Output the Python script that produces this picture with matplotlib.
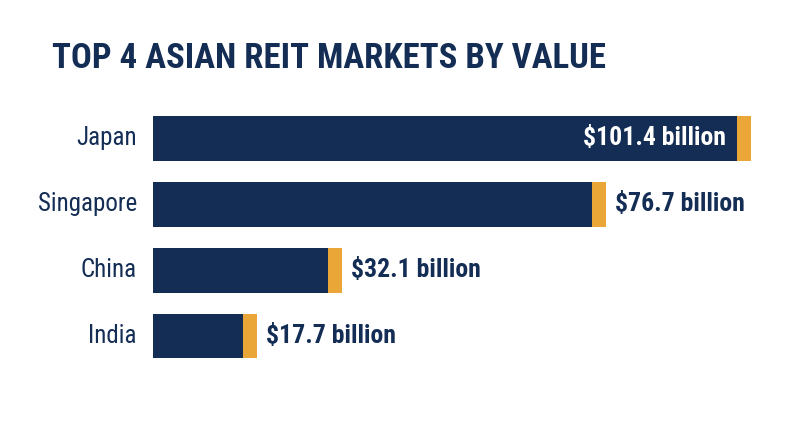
import matplotlib
matplotlib.use("Agg")
import matplotlib.pyplot as plt
from matplotlib import font_manager as fm

categories = ["Japan", "Singapore", "China", "India"]
values = [101.4, 76.7, 32.1, 17.7]
value_labels = ["$101.4 billion", "$76.7 billion", "$32.1 billion", "$17.7 billion"]
title = "TOP 4 ASIAN REIT MARKETS BY VALUE"

NAVY = "#142d55"
ORANGE = "#eba638"

# pick a condensed font if available
names = {f.name for f in fm.fontManager.ttflist}
fam = "DejaVu Sans"
stretch = "normal"
for cand in ["Roboto Condensed", "Open Sans Condensed", "Liberation Sans Narrow", "Noto Sans Condensed"]:
    if cand in names:
        fam = cand
        break
else:
    if any(f.name == "DejaVu Sans" and f.stretch == "condensed" for f in fm.fontManager.ttflist):
        stretch = "condensed"

fig = plt.figure(figsize=(8, 4.47), dpi=100)
ax = fig.add_axes([153/800, (447-369)/447, 610/800, 263.5/447])
px_per_unit = 5.9
ax.set_xlim(0, 610/px_per_unit)
ax.set_ylim(3.5, -0.5)
ax.axis("off")

cap = 14/px_per_unit
ys = list(range(len(categories)))
ax.barh(ys, values, height=0.68, color=NAVY, left=0)
ax.barh(ys, [cap]*len(values), left=[v - cap for v in values], height=0.68, color=ORANGE)

fp = dict(family=fam, stretch=stretch, weight="bold")
for i, (c, v, lab) in enumerate(zip(categories, values, value_labels)):
    ax.text(-16/px_per_unit, i, c, ha="right", va="center", fontsize=18, color=NAVY,
            family=fam, stretch=stretch, weight="normal")
    if i == 0:
        ax.text(v - cap - 11/px_per_unit, i, lab, ha="right", va="center", fontsize=18.5,
                color="white", **fp)
    else:
        ax.text(v + 9/px_per_unit, i, lab, ha="left", va="center", fontsize=18.5,
                color=NAVY, **fp)

fig.text(52/800, 1 - 59/447, title, ha="left", va="center", fontsize=25, color=NAVY, **fp)

fig.savefig("out.png", dpi=100, facecolor="white")
